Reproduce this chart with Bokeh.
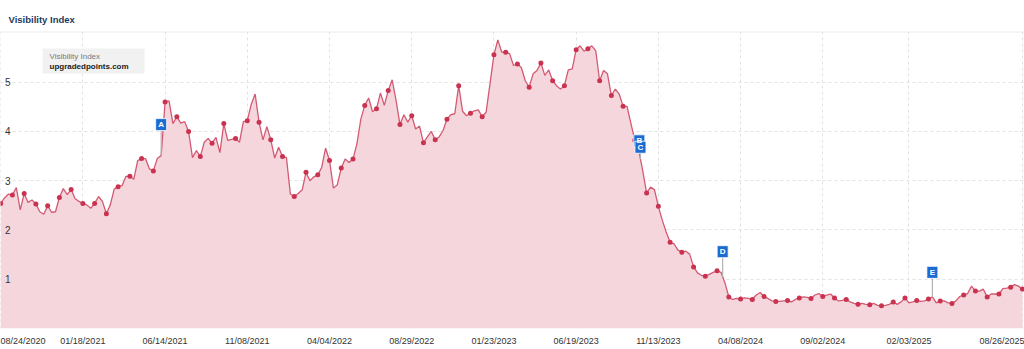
import numpy as np
import pandas as pd
from bokeh.plotting import figure
from bokeh.models import (Range1d, FixedTicker, DatetimeTickFormatter, Span,
                          BoxAnnotation, Label, ColumnDataSource)
from bokeh.core.properties import value
from bokeh.embed import file_html
from bokeh.resources import INLINE

# ---------------- data ----------------
chart_title = "Visibility Index"
legend_series = "Visibility Index"
legend_domain = "upgradedpoints.com"
first_week = "2020-08-24"

visibility = [
    2.54, 2.65, 2.73, 2.71, 2.86, 2.41, 2.74, 2.56, 2.61, 2.53,
    2.37, 2.32, 2.49, 2.36, 2.37, 2.66, 2.84, 2.72, 2.82, 2.64,
    2.58, 2.54, 2.51, 2.44, 2.54, 2.68, 2.58, 2.33, 2.51, 2.83,
    2.88, 2.90, 3.09, 3.09, 3.03, 3.41, 3.45, 3.45, 3.24, 3.20,
    3.45, 3.51, 4.60, 4.62, 4.16, 4.30, 4.17, 4.20, 4.00, 3.47,
    3.61, 3.49, 3.78, 3.86, 3.76, 3.88, 3.57, 4.16, 3.82, 3.84,
    3.86, 3.78, 4.20, 4.22, 4.55, 4.76,
    4.19, 3.83, 4.10, 3.83, 3.46, 3.68, 3.49, 3.47, 2.73, 2.68,
    2.74, 2.81, 3.17, 3.00, 3.08, 3.12, 3.27, 3.66, 3.41, 2.85,
    2.92, 3.26, 3.44, 3.37, 3.44, 3.75, 4.25, 4.53, 4.68, 4.40,
    4.46, 4.78, 4.53, 4.83, 5.05, 4.63, 4.14, 4.34, 4.19, 4.32,
    4.05, 4.11, 3.77, 3.89, 4.00, 3.83, 3.89, 4.02, 4.25, 4.34,
    4.36, 4.93, 4.41, 4.32, 4.37, 4.42, 4.44, 4.30, 4.39, 4.97,
    5.56, 5.86, 5.61, 5.61, 5.58, 5.34,
    5.37, 5.30, 5.03, 4.90, 5.17, 5.24, 5.39, 5.14, 5.25, 5.03,
    4.93, 4.86, 4.93, 5.25, 5.27, 5.66, 5.74, 5.63, 5.68, 5.74,
    5.64, 5.03, 5.24, 5.17, 4.73, 4.86, 4.76, 4.51, 4.51, 4.16,
    3.82, 3.61, 3.21, 2.75, 2.87, 2.82, 2.48, 2.20, 1.96, 1.75,
    1.72, 1.59, 1.55, 1.57, 1.51, 1.25, 1.13, 1.08, 1.06, 1.10,
    1.14, 1.17, 1.14, 0.93,
    0.64, 0.59, 0.61, 0.60, 0.62, 0.61, 0.59, 0.68, 0.73, 0.65,
    0.61, 0.56, 0.55, 0.55, 0.56, 0.57, 0.54, 0.59, 0.62, 0.64,
    0.63, 0.61, 0.68, 0.71, 0.65, 0.68, 0.70, 0.62, 0.56, 0.57,
    0.59, 0.54, 0.51, 0.49, 0.51, 0.49, 0.48, 0.51, 0.47, 0.46,
    0.47, 0.49, 0.54, 0.49, 0.54, 0.62, 0.52, 0.54, 0.57, 0.55,
    0.56, 0.60, 0.64, 0.52, 0.56, 0.56, 0.52, 0.51, 0.56, 0.65,
    0.68, 0.71, 0.86, 0.76, 0.76, 0.80, 0.64, 0.70, 0.70, 0.70,
    0.81, 0.82, 0.84, 0.89, 0.86, 0.80,
]

x_tick_labels = ["08/24/2020", "01/18/2021", "06/14/2021", "11/08/2021",
                 "04/04/2022", "08/29/2022", "01/23/2023", "06/19/2023",
                 "11/13/2023", "04/08/2024", "09/02/2024", "02/03/2025",
                 "08/26/2025"]
y_ticks = [1, 2, 3, 4, 5]

event_labels = ["A", "B", "C", "D", "E"]
event_dates = ["2021-06-07", "2023-10-10", "2023-10-12", "2024-03-07", "2025-03-17"]
event_box_levels = [4.14, 3.81, 3.68, 1.56, 1.14]

# ---------------- derived ----------------
dates = pd.date_range(first_week, periods=len(visibility), freq="7D")
src = ColumnDataSource(dict(date=dates, v=visibility))
dot_src = ColumnDataSource(dict(date=dates[::3], v=visibility[::3]))

def ms(ts):
    return pd.Timestamp(ts).value / 1e6

tick_ms = [ms(pd.to_datetime(t, format="%m/%d/%Y")) for t in x_tick_labels]
date_ms = np.array([ms(d) for d in dates])
ev_ts = pd.to_datetime(event_dates)
ev_ms = np.array([ms(d) for d in ev_ts])
ev_vals = np.interp(ev_ms, date_ms, visibility)
ev_src = ColumnDataSource(dict(date=ev_ts, v=ev_vals, lvl=event_box_levels, lab=event_labels))

day = 86400000.0
x_start = ms(first_week) - 0.3 * day
x_end = x_start + 1831 * day
y_top = 6.03

FONT = "Liberation Sans"

p = figure(width=1024, height=349, x_axis_type="datetime",
           x_range=Range1d(x_start, x_end), y_range=Range1d(0, y_top),
           output_backend="svg", toolbar_location=None,
           min_border_left=0, min_border_right=0, min_border_top=31,
           min_border_bottom=21, background_fill_color="white",
           border_fill_color="white", outline_line_color=None)

p.title.text = chart_title
p.title.text_font = FONT
p.title.text_font_size = "9.5px"
p.title.text_font_style = "bold"
p.title.text_color = "#1f3a5c"
p.title.offset = 8
p.title.standoff = 13

# x axis
p.xaxis.ticker = FixedTicker(ticks=tick_ms)
fmt = "%m/%d/%Y"
p.xaxis.formatter = DatetimeTickFormatter(days=fmt, months=fmt, years=fmt,
                                          hours=fmt, minutes=fmt, seconds=fmt,
                                          milliseconds=fmt, microseconds=fmt)
p.xaxis.major_label_overrides = {t: lab for t, lab in zip(tick_ms, x_tick_labels)}
p.xaxis.major_tick_line_color = None
p.xaxis.major_tick_out = 0
p.xaxis.major_tick_in = 0
p.xaxis.minor_tick_line_color = None
p.xaxis.minor_tick_out = 0
p.xaxis.axis_line_color = None
p.xaxis.major_label_standoff = 7
p.xaxis.major_label_text_font = FONT
p.xaxis.major_label_text_font_size = "9px"
p.xaxis.major_label_text_color = "#333333"

# y axis (labels drawn inside the plot)
p.yaxis.ticker = FixedTicker(ticks=y_ticks)
p.yaxis.major_tick_line_color = None
p.yaxis.major_tick_out = 0
p.yaxis.major_tick_in = 0
p.yaxis.minor_tick_line_color = None
p.yaxis.minor_tick_out = 0
p.yaxis.axis_line_color = None
p.yaxis.major_label_standoff = -10
p.yaxis.major_label_text_align = "right"
p.yaxis.major_label_text_font = FONT
p.yaxis.major_label_text_font_size = "10px"
p.yaxis.major_label_text_color = "#333333"

# grids
p.xgrid.ticker = FixedTicker(ticks=tick_ms)
p.ygrid.ticker = FixedTicker(ticks=y_ticks)
for g in (p.xgrid, p.ygrid):
    g.grid_line_color = "#e2e2e2"
    g.grid_line_dash = "3 3"
    g.grid_line_width = 1

# top separator
p.add_layout(Span(location=y_top, dimension="width", line_color="#e8ecf0", line_width=2))

# series
p.varea(x="date", y1=0, y2="v", source=src, fill_color="#f5d6dc")
p.line(x="date", y="v", source=src, line_color="#d35a72", line_width=1.3)
p.scatter(x="date", y="v", source=dot_src, size=5, fill_color="#c9334f", line_color=None)

# events
p.segment(x0="date", y0="v", x1="date", y1="lvl", source=ev_src,
          line_color="#b3b3b3", line_width=1.2)
p.rect(x="date", y="lvl", width=11, height=12, width_units="screen",
       height_units="screen", source=ev_src, fill_color="#1b6bd3",
       line_color="#ffffff", line_width=0.8)
p.text(x="date", y="lvl", text="lab", source=ev_src, text_align="center",
       text_baseline="middle", text_color="white", text_font=value(FONT),
       text_font_size="8px", text_font_style="bold")

# legend box
p.add_layout(BoxAnnotation(left=42, right=144, bottom=255, top=280,
                           left_units="screen", right_units="screen",
                           bottom_units="screen", top_units="screen",
                           fill_color="#f1f1f1", fill_alpha=1.0, line_color=None))
p.add_layout(Label(x=49, y=272, x_units="screen", y_units="screen",
                   text=legend_series, text_font=FONT, text_font_size="8px",
                   text_color="#7a7a7a", text_baseline="middle"))
p.add_layout(Label(x=49, y=262, x_units="screen", y_units="screen",
                   text=legend_domain, text_font=FONT, text_font_size="8px",
                   text_font_style="bold", text_color="#222222",
                   text_baseline="middle"))

open("out.html", "w").write(file_html(p, INLINE))
